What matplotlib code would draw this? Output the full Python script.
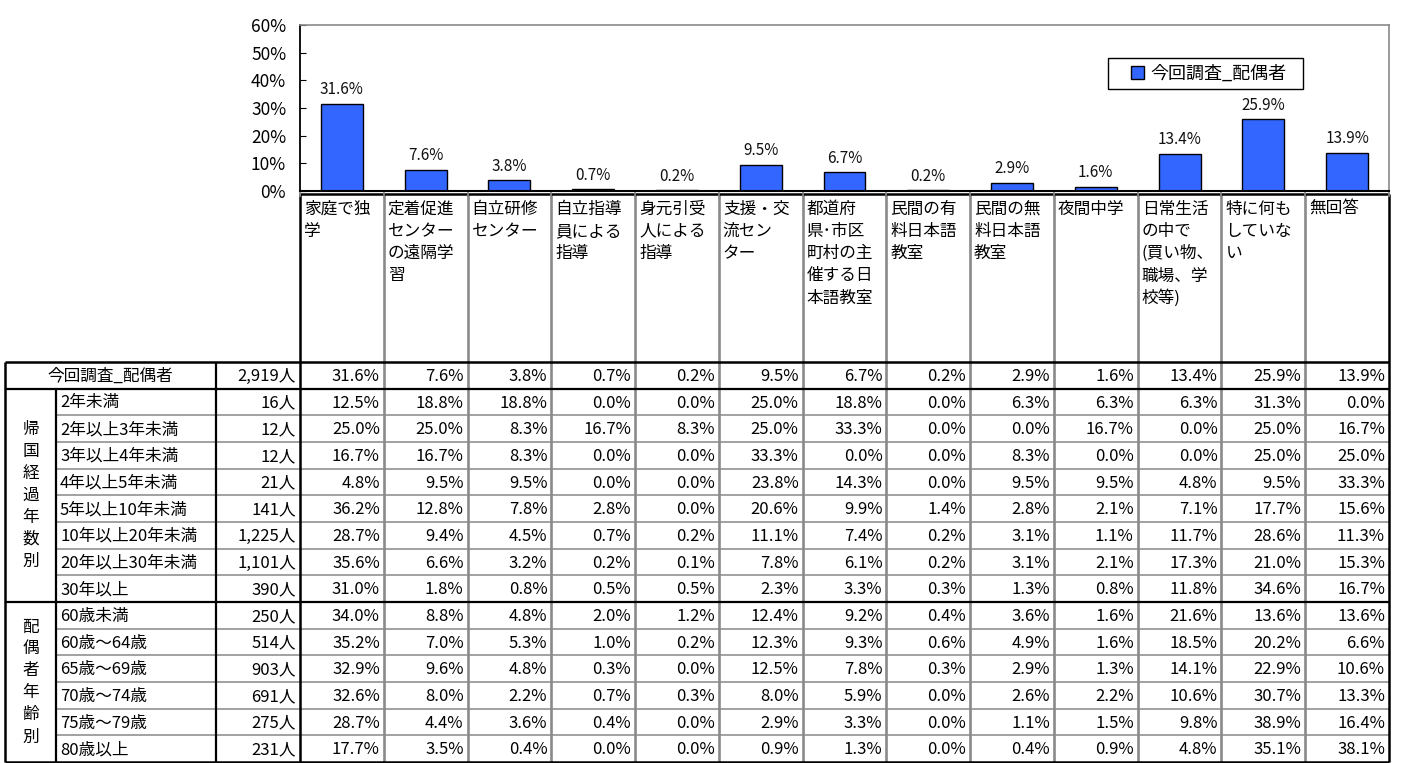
import matplotlib
matplotlib.use('Agg')
import matplotlib.pyplot as plt
from matplotlib.patches import Rectangle
import numpy as np

plt.rcParams['font.family'] = ['Noto Sans CJK JP', 'DejaVu Sans']

# ---------------- data ----------------
categories = [
    '家庭で独\n学',
    '定着促進\nセンター\nの遠隔学\n習',
    '自立研修\nセンター',
    '自立指導\n員による\n指導',
    '身元引受\n人による\n指導',
    '支援・交\n流セン\nター',
    '都道府\n県･市区\n町村の主\n催する日\n本語教室',
    '民間の有\n料日本語\n教室',
    '民間の無\n料日本語\n教室',
    '夜間中学',
    '日常生活\nの中で\n(買い物、\n職場、学\n校等)',
    '特に何も\nしていな\nい',
    '無回答',
]

overall_label = '今回調査_配偶者'
overall_n = 2919
overall_values = [31.6, 7.6, 3.8, 0.7, 0.2, 9.5, 6.7, 0.2, 2.9, 1.6, 13.4, 25.9, 13.9]

group1_label = '帰国経過年数別'
group1_rows = ['2年未満', '2年以上3年未満', '3年以上4年未満', '4年以上5年未満',
               '5年以上10年未満', '10年以上20年未満', '20年以上30年未満', '30年以上']
group1_n = [16, 12, 12, 21, 141, 1225, 1101, 390]
group1_values = [
    [12.5, 18.8, 18.8, 0.0, 0.0, 25.0, 18.8, 0.0, 6.3, 6.3, 6.3, 31.3, 0.0],
    [25.0, 25.0, 8.3, 16.7, 8.3, 25.0, 33.3, 0.0, 0.0, 16.7, 0.0, 25.0, 16.7],
    [16.7, 16.7, 8.3, 0.0, 0.0, 33.3, 0.0, 0.0, 8.3, 0.0, 0.0, 25.0, 25.0],
    [4.8, 9.5, 9.5, 0.0, 0.0, 23.8, 14.3, 0.0, 9.5, 9.5, 4.8, 9.5, 33.3],
    [36.2, 12.8, 7.8, 2.8, 0.0, 20.6, 9.9, 1.4, 2.8, 2.1, 7.1, 17.7, 15.6],
    [28.7, 9.4, 4.5, 0.7, 0.2, 11.1, 7.4, 0.2, 3.1, 1.1, 11.7, 28.6, 11.3],
    [35.6, 6.6, 3.2, 0.2, 0.1, 7.8, 6.1, 0.2, 3.1, 2.1, 17.3, 21.0, 15.3],
    [31.0, 1.8, 0.8, 0.5, 0.5, 2.3, 3.3, 0.3, 1.3, 0.8, 11.8, 34.6, 16.7],
]

group2_label = '配偶者年齢別'
group2_rows = ['60歳未満', '60歳～64歳', '65歳～69歳', '70歳～74歳', '75歳～79歳', '80歳以上']
group2_n = [250, 514, 903, 691, 275, 231]
group2_values = [
    [34.0, 8.8, 4.8, 2.0, 1.2, 12.4, 9.2, 0.4, 3.6, 1.6, 21.6, 13.6, 13.6],
    [35.2, 7.0, 5.3, 1.0, 0.2, 12.3, 9.3, 0.6, 4.9, 1.6, 18.5, 20.2, 6.6],
    [32.9, 9.6, 4.8, 0.3, 0.0, 12.5, 7.8, 0.3, 2.9, 1.3, 14.1, 22.9, 10.6],
    [32.6, 8.0, 2.2, 0.7, 0.3, 8.0, 5.9, 0.0, 2.6, 2.2, 10.6, 30.7, 13.3],
    [28.7, 4.4, 3.6, 0.4, 0.0, 2.9, 3.3, 0.0, 1.1, 1.5, 9.8, 38.9, 16.4],
    [17.7, 3.5, 0.4, 0.0, 0.0, 0.9, 1.3, 0.0, 0.4, 0.9, 4.8, 35.1, 38.1],
]

y_ticks = [0, 10, 20, 30, 40, 50, 60]

# ---------------- layout (pixels) ----------------
W, H = 1402, 763
X_LEFT, X_GROUP, X_COUNT, X_DATA, X_RIGHT = 5, 56, 216, 300, 1389
Y_AX_TOP, Y_AX_BOT = 25, 191
Y_HEAD_TOP, Y_HEAD_BOT, Y_BOTTOM = 194, 362, 762
LEG_BOX = (1108, 58, 1303, 89)   # legend frame, pixels (x0, y0, x1, y1)

BAR_COLOR = '#3366FF'
GRAY = '#8a8a8a'
FS = 12

fig = plt.figure(figsize=(W / 100, H / 100), dpi=100)

tab = fig.add_axes([0, 0, 1, 1], zorder=0)
tab.set_xlim(0, W)
tab.set_ylim(H, 0)
tab.axis('off')

ncol = len(categories)
col_w = (X_RIGHT - X_DATA) / ncol
col_edges = [X_DATA + i * col_w for i in range(ncol + 1)]

# ---------------- bar chart ----------------
ax_w = X_RIGHT - X_DATA
ax_h = Y_AX_BOT - Y_AX_TOP
ax = fig.add_axes([X_DATA / W, 1 - Y_AX_BOT / H, ax_w / W, ax_h / H], zorder=2)
xpos = np.arange(ncol)
ax.bar(xpos, overall_values, width=0.5, color=BAR_COLOR, edgecolor='black',
       linewidth=1.0, label=overall_label)
for xv, v in zip(xpos, overall_values):
    ax.annotate(f'{v:.1f}%', (xv, v), xytext=(0, 4), textcoords='offset points',
                ha='center', va='bottom', fontsize=11, color='#111111')
ax.set_xlim(-0.5, ncol - 0.5)
ax.set_ylim(0, 60)
ax.set_yticks(y_ticks)
ax.set_yticklabels([f'{t}%' for t in y_ticks])
ax.tick_params(axis='y', direction='in', length=4, labelsize=12.5, pad=10,
               colors='black')
ax.set_xticks(np.arange(-0.5, ncol, 1.0))
ax.set_xticklabels([])
ax.tick_params(axis='x', direction='out', length=4, color=GRAY, width=1.2)
for s in ('top', 'right'):
    ax.spines[s].set_color(GRAY)
    ax.spines[s].set_linewidth(1.2)
ax.spines['left'].set_color('black')
ax.spines['left'].set_linewidth(1.3)
ax.spines['bottom'].set_color('black')
ax.spines['bottom'].set_linewidth(1.5)

# legend (content without frame) + frame drawn to match the reference box
lx0, ly0, lx1, ly1 = LEG_BOX
leg_cx = ((lx0 + 22) + (lx1 - 16)) / 2
leg_cy = (ly0 + ly1) / 2
leg = ax.legend(loc='center',
                bbox_to_anchor=((leg_cx - X_DATA) / ax_w, (Y_AX_BOT - leg_cy) / ax_h),
                frameon=False, fontsize=13, handlelength=0.75, handleheight=0.75,
                handletextpad=0.35, borderpad=0.0)
ax.add_patch(Rectangle((lx0 / W, 1 - ly1 / H), (lx1 - lx0) / W, (ly1 - ly0) / H,
                       transform=fig.transFigure, fill=False, edgecolor='black',
                       linewidth=1.0, clip_on=False, zorder=5))

# ---------------- table ----------------
def hline(y, x0, x1, color='black', lw=1.6):
    tab.plot([x0, x1], [y, y], color=color, lw=lw, solid_capstyle='butt')

def vline(x, y0, y1, color='black', lw=1.6):
    tab.plot([x, x], [y0, y1], color=color, lw=lw, solid_capstyle='butt')

# header row with category labels
for i, cat in enumerate(categories):
    for k, line in enumerate(cat.split('\n')):
        tab.text(col_edges[i] + 4, 209 + k * 22.3, line, ha='left', va='center',
                 fontsize=FS, color='black')

all_labels = [overall_label] + group1_rows + group2_rows
all_n = [overall_n] + group1_n + group2_n
all_values = [overall_values] + group1_values + group2_values
nrows = len(all_labels)
row_h = (Y_BOTTOM - Y_HEAD_BOT) / nrows
row_tops = [Y_HEAD_BOT + r * row_h for r in range(nrows + 1)]

for r in range(nrows):
    yc = row_tops[r] + row_h / 2 + 1
    if r == 0:
        tab.text((X_LEFT + X_COUNT) / 2, yc, all_labels[r], ha='center',
                 va='center', fontsize=FS)
    else:
        tab.text(X_GROUP + 4, yc, all_labels[r], ha='left', va='center',
                 fontsize=FS)
    tab.text(X_DATA - 4, yc, f'{all_n[r]:,}人', ha='right', va='center',
             fontsize=FS)
    for c in range(ncol):
        tab.text(col_edges[c + 1] - 4, yc, f'{all_values[r][c]:.1f}%',
                 ha='right', va='center', fontsize=FS)

# group labels (vertical stacked characters)
g1_top, g1_bot = row_tops[1], row_tops[1 + len(group1_rows)]
g2_top, g2_bot = g1_bot, row_tops[nrows]
for label, top, bot in ((group1_label, g1_top, g1_bot), (group2_label, g2_top, g2_bot)):
    n = len(label)
    yc = (top + bot) / 2
    for k, ch in enumerate(label):
        tab.text((X_LEFT + X_GROUP) / 2, yc + (k - (n - 1) / 2) * 22, ch,
                 ha='center', va='center', fontsize=FS)

# gray separators between rows inside groups
group_breaks = {1, 1 + len(group1_rows), nrows}
for r in range(2, nrows):
    if r in group_breaks:
        continue
    hline(row_tops[r], X_GROUP, X_RIGHT, color='#9a9a9a', lw=1.3)

# gray vertical borders between data columns
for xe in col_edges[1:-1]:
    vline(xe, Y_HEAD_TOP, Y_BOTTOM, color=GRAY, lw=1.9)

# black borders
hline(Y_HEAD_TOP, X_DATA, X_RIGHT, lw=1.8)
hline(Y_HEAD_BOT, X_LEFT, X_RIGHT, lw=1.8)
hline(row_tops[1], X_LEFT, X_RIGHT, lw=1.6)
hline(g1_bot, X_LEFT, X_RIGHT, lw=1.6)
hline(Y_BOTTOM, X_LEFT, X_RIGHT, lw=1.8)
vline(X_DATA, Y_HEAD_TOP, Y_BOTTOM, lw=1.8)
vline(X_RIGHT, Y_HEAD_TOP, Y_BOTTOM, lw=1.8)
vline(X_LEFT, Y_HEAD_BOT, Y_BOTTOM, lw=1.8)
vline(X_COUNT, Y_HEAD_BOT, Y_BOTTOM, lw=1.6)
vline(X_GROUP, row_tops[1], Y_BOTTOM, lw=1.6)

fig.savefig('out.png', dpi=100)
